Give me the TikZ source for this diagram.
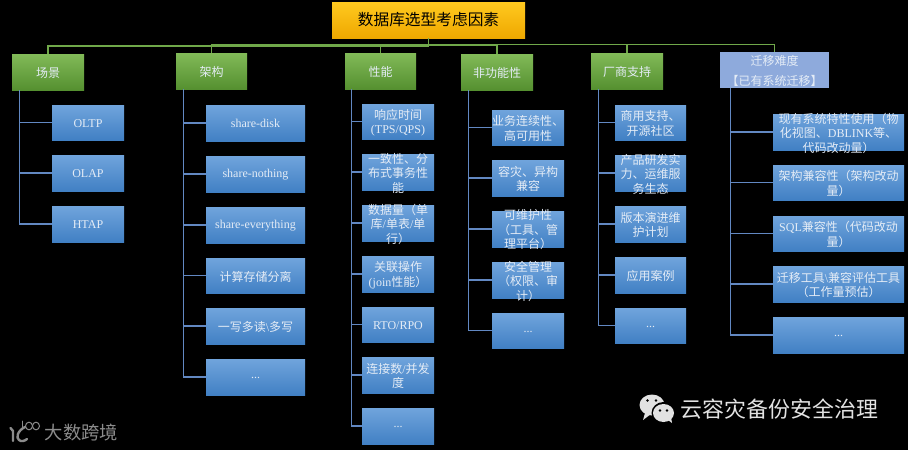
\documentclass[tikz,border=0pt]{standalone}
\usepackage{fontspec}
\setmainfont{Noto Sans CJK SC}
\newfontfamily\latfont{Liberation Serif}
\newcommand{\lat}[1]{{\latfont #1}}
\newcommand{\latup}[1]{\raisebox{0.8pt}{\latfont #1}}
\newcommand{\ddd}{\raisebox{-1.5pt}{\latfont ...}}
\definecolor{bluetop}{HTML}{70A4DC}
\definecolor{bluebot}{HTML}{4180C4}
\definecolor{greentop}{HTML}{82BA58}
\definecolor{greenbot}{HTML}{559030}
\definecolor{goldtop}{HTML}{FFC91F}
\definecolor{goldbot}{HTML}{EFA800}
\definecolor{peri}{HTML}{8EAADC}
\definecolor{linkblue}{HTML}{6288C2}
\definecolor{linkgreen}{HTML}{70A84A}
\definecolor{softwhite}{HTML}{E4ECF6}
\definecolor{wmgray}{HTML}{8C8C8C}
\definecolor{wmlight}{HTML}{E2E2E2}
\tikzset{
  plainbox/.style={inner sep=0pt,outer sep=0pt,draw=none},
  bluebox/.style={plainbox,top color=bluetop,bottom color=bluebot},
  greenbox/.style={plainbox,top color=greentop,bottom color=greenbot},
  goldbox/.style={plainbox,top color=goldtop,bottom color=goldbot},
  peribox/.style={plainbox,fill=peri},
  boxtext/.style={inner sep=0pt,outer sep=0pt,align=center,text=softwhite,yshift=-1pt,font=\fontsize{12}{14.5}\selectfont},
  titletext/.style={inner sep=0pt,align=center,text=black,font=\fontsize{15.7}{20}\selectfont},
  blueline/.style={draw=linkblue,line width=1.1pt},
  greenline/.style={draw=linkgreen,line width=1.1pt},
}
% name, style, x1, y1, x2, y2, text
\newcommand{\boxat}[7]{%
  \pgfmathsetmacro{\bw}{#5-#3}\pgfmathsetmacro{\bh}{#6-#4}%
  \pgfmathsetmacro{\bx}{(#3+#5)/2}\pgfmathsetmacro{\by}{(#4+#6)/2}%
  \node[#2,minimum width=\bw pt,minimum height=\bh pt] (#1) at (\bx,\by) {};
  \node[boxtext] (#1-t) at (#1.center) {#7};}
\begin{document}
\begin{tikzpicture}[x=1pt,y=-1pt]
\useasboundingbox (0,0) rectangle (908,450);
\fill[black] (0,0) rectangle (908,450);

\coordinate (t1) at (19.5,90);
\coordinate (t2) at (183.5,89);
\coordinate (t3) at (351.5,89);
\coordinate (t4) at (468.5,90);
\coordinate (t5) at (598.5,89);
\coordinate (t6) at (730.5,88);

% title
\node[goldbox,minimum width=193pt,minimum height=36pt] (title) at (428.5,20) {};
\node[titletext] (title-t) at (title.center) {数据库选型考虑因素};

% level 1
\boxat{g1}{greenbox}{12}{54}{84}{90}{场景}
\boxat{g2}{greenbox}{176}{53}{247}{89}{架构}
\boxat{g3}{greenbox}{345}{53}{416}{89}{性能}
\boxat{g4}{greenbox}{461}{54}{533}{90}{非功能性}
\boxat{g5}{greenbox}{591}{53}{663}{89}{厂商支持}
\boxat{g6}{peribox}{720}{52}{829}{88}{迁移难度\\[5pt]【已有系统迁移】}

% column 1
\boxat{a1}{bluebox}{52}{105}{124}{140}{\latup{OLTP}}
\boxat{a2}{bluebox}{52}{155}{124}{191}{\latup{OLAP}}
\boxat{a3}{bluebox}{52}{206}{124}{242}{\latup{HTAP}}
% column 2
\boxat{b1}{bluebox}{206}{105}{305}{141}{\latup{share-disk}}
\boxat{b2}{bluebox}{206}{156}{305}{192}{\latup{share-nothing}}
\boxat{b3}{bluebox}{206}{207}{305}{243}{\latup{share-everything}}
\boxat{b4}{bluebox}{206}{258}{305}{293}{计算存储分离}
\boxat{b5}{bluebox}{206}{308}{305}{344}{一写多读\lat{\textbackslash}多写}
\boxat{b6}{bluebox}{206}{359}{305}{395}{\ddd}
% column 3
\boxat{c1}{bluebox}{362}{104}{434}{139}{响应时间\\\lat{(TPS/QPS)}}
\boxat{c2}{bluebox}{362}{154}{434}{190}{一致性、分\\布式事务性\\能}
\boxat{c3}{bluebox}{362}{205}{434}{241}{数据量（单\\库\lat{/}单表\lat{/}单\\行）}
\boxat{c4}{bluebox}{362}{256}{434}{292}{关联操作\\\lat{(join}性能）}
\boxat{c5}{bluebox}{362}{307}{434}{342}{\latup{RTO/RPO}}
\boxat{c6}{bluebox}{362}{357}{434}{393}{连接数\lat{/}并发\\度}
\boxat{c7}{bluebox}{362}{408}{434}{444}{\ddd}
% column 4
\boxat{d1}{bluebox}{492}{110}{564}{145}{业务连续性、\\高可用性}
\boxat{d2}{bluebox}{492}{160}{564}{196}{容灾、异构\\兼容}
\boxat{d3}{bluebox}{492}{211}{564}{247}{可维护性\\（工具、管\\理平台）}
\boxat{d4}{bluebox}{492}{262}{564}{298}{安全管理\\（权限、审\\计）}
\boxat{d5}{bluebox}{492}{313}{564}{348}{\ddd}
% column 5
\boxat{e1}{bluebox}{615}{105}{686}{140}{商用支持、\\开源社区}
\boxat{e2}{bluebox}{615}{155}{686}{191}{产品研发实\\力、运维服\\务生态}
\boxat{e3}{bluebox}{615}{206}{686}{242}{版本演进维\\护计划}
\boxat{e4}{bluebox}{615}{257}{686}{293}{应用案例}
\boxat{e5}{bluebox}{615}{308}{686}{343}{\ddd}
% column 6
\boxat{f1}{bluebox}{773}{114}{904}{150}{现有系统特性使用（物\\化视图、\lat{DBLINK}等、\\代码改动量）}
\boxat{f2}{bluebox}{773}{165}{904}{200}{架构兼容性（架构改动\\量）}
\boxat{f3}{bluebox}{773}{216}{904}{251}{\lat{SQL}兼容性（代码改动\\量）}
\boxat{f4}{bluebox}{773}{266}{904}{302}{迁移工具\lat{\textbackslash}兼容评估工具\\（工作量预估）}
\boxat{f5}{bluebox}{773}{317}{904}{353}{\ddd}

% green bus
\coordinate (bus1) at (428.5,46);
\coordinate (bus2) at (428.5,45);
\coordinate (bus3) at (428.5,44.5);
\draw[greenline] (title.south) -- (bus1);
\draw[greenline] (bus1) -| (g1.north);
\draw[greenline] (bus2) -| (g2.north);
\draw[greenline] (bus2) -| (g3.north);
\draw[greenline] (bus2) -| (g4.north);
\draw[greenline] (bus3) -| (g5.north);
\draw[greenline] (bus3) -| (g6.north);

% blue trees
\foreach \n in {a1,a2,a3} \draw[blueline] (t1) |- (\n.west);
\foreach \n in {b1,b2,b3,b4,b5,b6} \draw[blueline] (t2) |- (\n.west);
\foreach \n in {c1,c2,c3,c4,c5,c6,c7} \draw[blueline] (t3) |- (\n.west);
\foreach \n in {d1,d2,d3,d4,d5} \draw[blueline] (t4) |- (\n.west);
\foreach \n in {e1,e2,e3,e4,e5} \draw[blueline] (t5) |- (\n.west);
\foreach \n in {f1,f2,f3,f4,f5} \draw[blueline] (t6) |- (\n.west);

% watermark left
\node[inner sep=0pt,text=wmgray,font=\fontsize{18.3}{20}\selectfont] (wm1) at (81.5,433) {大数跨境};
\begin{scope}[draw=wmgray,line cap=round]
\draw[line width=2.4pt] (10.5,428) -- (13,431) -- (13,441);
\draw[line width=2.4pt] (25,427) .. controls (17,431) and (16,438) .. (19,440) .. controls (21,442) and (25,441) .. (27,439);
\draw[line width=1pt] (22,421) -- (22,429);
\draw[line width=1pt] (29,426) ellipse (3.5 and 3.8);
\draw[line width=1pt] (36,426) ellipse (3.5 and 3.8);
\end{scope}

% watermark right
\node[inner sep=0pt,text=wmlight,font=\fontsize{21.9}{24}\selectfont] (wm2) at (779.5,409.5) {云容灾备份安全治理};
\fill[wmlight] (652,405) ellipse (12.5 and 10.5);
\fill[wmlight] (645,413) -- (643,420) -- (651,414) -- cycle;
\fill[black] (663.5,413) ellipse (12 and 11);
\fill[wmlight] (663.5,413) ellipse (10.5 and 9);
\fill[wmlight] (668,420) -- (672,423) -- (671,417) -- cycle;
\fill[black] (647.5,400.5) circle (1.4) (656,400.5) circle (1.4) (660,410.5) circle (1.3) (667,410.5) circle (1.3);
\end{tikzpicture}
\end{document}
